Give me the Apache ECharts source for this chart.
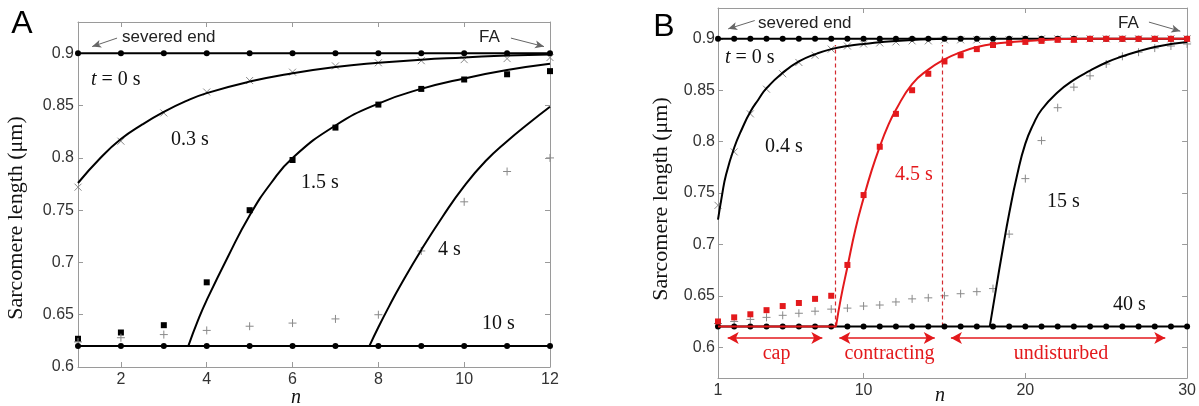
<!DOCTYPE html>
<html><head><meta charset="utf-8">
<script src="https://cdn.jsdelivr.net/npm/echarts@6/dist/echarts.min.js"></script>
<style>html,body{margin:0;padding:0;background:#fff}#c{width:1199px;height:406px}</style>
</head><body><div id="c"></div>
<script>
// ---------- Panel A data ----------
const nA = [1,2,3,4,5,6,7,8,9,10,11,12];
const A_t0 = [0.9,0.9,0.9,0.9,0.9,0.9,0.9,0.9,0.9,0.9,0.9,0.9];
const A_03s = [0.772,0.816,0.843,0.863,0.874,0.882,0.888,0.891,0.893,0.894,0.895,0.896];
const A_03s_fit = [[1,0.776],[1.5,0.799],[2,0.818],[2.5,0.832],[3,0.844],[3.5,0.854],[4,0.862],[5,0.873],[6,0.881],[7,0.887],[8,0.891],[9,0.894],[10,0.896],[11,0.898],[12,0.899]];
const A_15s = [0.627,0.633,0.640,0.681,0.750,0.798,0.829,0.851,0.866,0.875,0.880,0.883];
const A_15s_fit = [[3.57,0.62],[3.8,0.645],[4,0.664],[4.5,0.706],[5,0.745],[5.5,0.776],[6,0.8],[7,0.831],[8,0.852],[9,0.866],[10,0.876],[11,0.884],[12,0.89]];
const A_4s = [0.624,0.628,0.631,0.635,0.639,0.642,0.646,0.650,0.711,0.758,0.787,0.80];
const A_4s_fit = [[7.79,0.62],[8,0.638],[8.25,0.658],[8.5,0.677],[9,0.712],[9.5,0.744],[10,0.773],[10.5,0.797],[11,0.816],[11.5,0.833],[12,0.849]];
const A_10s = [0.62,0.62,0.62,0.62,0.62,0.62,0.62,0.62,0.62,0.62,0.62,0.62];
const A_xTicks = [2,4,6,8,10,12];
const A_yTicks = [0.6,0.65,0.7,0.75,0.8,0.85,0.9];

// ---------- Panel B data ----------
const nB = [1,2,3,4,5,6,7,8,9,10,11,12,13,14,15,16,17,18,19,20,21,22,23,24,25,26,27,28,29,30];
const B_t0 = [0.9,0.9,0.9,0.9,0.9,0.9,0.9,0.9,0.9,0.9,0.9,0.9,0.9,0.9,0.9,0.9,0.9,0.9,0.9,0.9,0.9,0.9,0.9,0.9,0.9,0.9,0.9,0.9,0.9,0.9];
const B_04s = [0.738,0.790,0.827,0.851,0.866,0.877,0.884,0.890,0.893,0.895,0.896,0.897,0.898,0.898,0.899,0.899,0.899,0.899,0.899,0.9,0.9,0.9,0.9,0.9,0.9,0.9,0.9,0.9,0.9,0.9];
const B_04s_fit = [[1,0.724],[1.25,0.748],[1.5,0.768],[2,0.794],[2.5,0.813],[3,0.829],[3.5,0.841],[4,0.852],[5,0.867],[6,0.878],[7,0.885],[8,0.89],[9,0.893],[10,0.895],[12,0.898],[15,0.9]];
const B_45s = [0.625,0.629,0.632,0.636,0.640,0.643,0.647,0.650,0.680,0.748,0.795,0.827,0.850,0.866,0.878,0.884,0.890,0.894,0.896,0.897,0.898,0.899,0.899,0.9,0.9,0.9,0.9,0.9,0.9,0.9];
const B_45s_flat = [[1,0.62],[8.29,0.62]];
const B_45s_fit = [[8.29,0.62],[8.6,0.648],[9,0.678],[9.5,0.715],[10,0.745],[10.5,0.772],[11,0.795],[11.5,0.815],[12,0.831],[13,0.856],[14,0.87],[15,0.88],[16,0.887],[17,0.892],[18,0.895],[20,0.898],[24,0.9],[30,0.9]];
const B_15s = [0.623,0.625,0.627,0.629,0.631,0.633,0.635,0.637,0.638,0.640,0.641,0.644,0.647,0.648,0.650,0.652,0.654,0.657,0.710,0.764,0.801,0.833,0.853,0.864,0.8755,0.883,0.887,0.891,0.893,0.895];
const B_15s_fit = [[17.8,0.62],[18.2,0.658],[18.6,0.695],[19,0.73],[19.5,0.768],[20,0.798],[20.5,0.817],[21,0.831],[22,0.848],[23,0.86],[24,0.869],[25,0.877],[26,0.883],[27,0.888],[28,0.892],[29,0.895],[30,0.897]];
const B_40s = [0.62,0.62,0.62,0.62,0.62,0.62,0.62,0.62,0.62,0.62,0.62,0.62,0.62,0.62,0.62,0.62,0.62,0.62,0.62,0.62,0.62,0.62,0.62,0.62,0.62,0.62,0.62,0.62,0.62,0.62];
const B_xTicks = [1,10,20,30];
const B_yTicks = [0.6,0.65,0.7,0.75,0.8,0.85,0.9];

// annotation anchors (data units)
const B_zoneBounds = [8.25, 14.85];
const B_zones = [
  {name:'cap', from:1.6, to:7.45, mid:4.62},
  {name:'contracting', from:8.5, to:14.4, mid:11.6},
  {name:'undisturbed', from:15.4, to:28.65, mid:22.2}
];

const RED = '#e3191c';
const GRAY = '#8a8a8a';
const SANS = '"Liberation Sans", Arial, sans-serif';
const SERIF = '"Liberation Serif", "Times New Roman", serif';

const zip = (xs, ys) => xs.map((x,i)=>[x, ys[i]]);
const CROSS = 'path://M0,0L10,10M10,0L0,10';
const PLUS = 'path://M5,0L5,10M0,5L10,5';

function axisPair(gridIndex, min, max, ticks, showLabels, pos){
  return {
    gridIndex, type:'value', min, max, position:pos,
    axisLine:{show:true, onZero:false, lineStyle:{color:'#9a9a9a', width:1}},
    axisTick:{show:true, inside:true, length:5, customValues:ticks, lineStyle:{color:'#9a9a9a'}},
    axisLabel:{show:showLabels, customValues:ticks, fontSize:16, fontFamily:SANS, color:'#333', margin:5,
      formatter:v=>String(+(+v).toFixed(2))},
    splitLine:{show:false}
  };
}

const xAxis = [
  axisPair(0,1,12,A_xTicks,true,'bottom'),
  axisPair(0,1,12,A_xTicks,false,'top'),
  axisPair(1,1,30,B_xTicks,true,'bottom'),
  axisPair(1,1,30,B_xTicks,false,'top')
];
const yAxis = [
  axisPair(0,0.6,0.93,A_yTicks,true,'left'),
  axisPair(0,0.6,0.93,A_yTicks,false,'right'),
  axisPair(1,0.57,0.93,B_yTicks,true,'left'),
  axisPair(1,0.57,0.93,B_yTicks,false,'right')
];
yAxis[0].axisLabel.margin = 4; yAxis[2].axisLabel.margin = 3;

function dotLine(xi, data){
  return {type:'line', xAxisIndex:xi, yAxisIndex:xi, data, symbol:'circle', symbolSize:6,
    lineStyle:{color:'#000', width:2}, itemStyle:{color:'#000'}, z:5};
}
function fit(xi, data, color){
  return {type:'line', xAxisIndex:xi, yAxisIndex:xi, data, smooth:0.5, showSymbol:false, symbol:'none',
    lineStyle:{color:color||'#000', width:2}, z:4};
}
function marks(xi, data, symbol, color, size, stroke){
  return {type:'scatter', xAxisIndex:xi, yAxisIndex:xi, data, symbol, symbolSize:size,
    itemStyle: stroke ? {color:'rgba(0,0,0,0)', borderColor:color, borderWidth:1, opacity:1} : {color, opacity:1}, z:3};
}
function arrowLine(xi, from, to, color, both, width){
  return {type:'line', xAxisIndex:xi, yAxisIndex:xi, data:[], silent:true,
    markLine:{silent:true, animation:false, symbol: both ? ['arrow','arrow'] : ['none','arrow'],
      symbolSize: both ? [9,11] : [6,9],
      label:{show:false}, lineStyle:{color, width:width||1, type:'solid', opacity:1},
      data:[[{coord:from},{coord:to}]]}};
}

const series = [
  // A
  marks(0, zip(nA, A_03s), CROSS, GRAY, 7, true),
  fit(0, A_03s_fit),
  marks(0, zip(nA, A_15s), 'rect', '#000', 6, false),
  fit(0, A_15s_fit),
  marks(0, zip(nA, A_4s), PLUS, GRAY, 8, true),
  fit(0, A_4s_fit),
  dotLine(0, zip(nA, A_t0)),
  dotLine(0, zip(nA, A_10s)),
  arrowLine(0, [1.91,0.9146], [1.33,0.9065], '#666'),
  arrowLine(0, [11.09,0.9146], [11.86,0.9065], '#666'),
  // B
  marks(2, zip(nB, B_04s), CROSS, GRAY, 7, true),
  fit(2, B_04s_fit),
  marks(2, zip(nB, B_15s), PLUS, GRAY, 8, true),
  fit(2, B_15s_fit),
  dotLine(2, zip(nB, B_t0)),
  dotLine(2, zip(nB, B_40s)),
  Object.assign(fit(2, B_45s_flat, RED), {z:6, smooth:false}),
  Object.assign(fit(2, B_45s_fit, RED), {z:6}),
  Object.assign(marks(2, zip(nB, B_45s), 'rect', RED, 6, false), {z:7}),
  arrowLine(2, [3.27,0.9178], [1.63,0.9097], '#666'),
  arrowLine(2, [27.64,0.9163], [29.58,0.9075], '#666'),
  {type:'line', xAxisIndex:2, yAxisIndex:2, data:[], silent:true,
    markLine:{silent:true, animation:false, symbol:['none','none'], label:{show:false},
      lineStyle:{color:'#d42a30', width:1.2, type:[4,3], opacity:1},
      data: B_zoneBounds.map(x=>[{coord:[x,0.62]},{coord:[x,0.894]}])}},
  ...B_zones.map(z=>arrowLine(2, [z.from,0.609], [z.to,0.609], RED, true, 1.5))
];

function txt(x, y, text, opts){
  opts = opts || {};
  return {type:'text', x, y, z:100, rotation: opts.rot || 0,
    style:Object.assign({text, font: opts.font || ('20px ' + SERIF), fill: opts.fill || '#111',
      align: opts.align || 'left', verticalAlign:'middle'}, opts.rich ? {rich:opts.rich} : {})};
}
const tRich = {i:{font:'italic 20px ' + SERIF, fill:'#111'}};
const graphic = [
  txt(22, 24, 'A', {font:'32px ' + SANS, align:'center', fill:'#000'}),
  txt(664, 27, 'B', {font:'32px ' + SANS, align:'center', fill:'#000'}),
  txt(16, 218, 'Sarcomere length (\u03bcm)', {font:'22px ' + SERIF, align:'center', rot:Math.PI/2}),
  txt(661, 199, 'Sarcomere length (\u03bcm)', {font:'22px ' + SERIF, align:'center', rot:Math.PI/2}),
  txt(296, 398, 'n', {font:'italic 20px ' + SERIF, align:'center'}),
  txt(940, 396, 'n', {font:'italic 20px ' + SERIF, align:'center'}),
  // A annotations
  txt(122, 37, 'severed end', {font:'17px ' + SANS, fill:'#222'}),
  txt(479, 37, 'FA', {font:'17px ' + SANS, fill:'#222'}),
  txt(91, 80, '{i|t} = 0 s', {rich:tRich}),
  txt(171, 140, '0.3 s'),
  txt(301, 183, '1.5 s'),
  txt(438, 250, '4 s'),
  txt(482, 324, '10 s'),
  // B annotations
  txt(758, 23, 'severed end', {font:'17px ' + SANS, fill:'#222'}),
  txt(1118, 23, 'FA', {font:'17px ' + SANS, fill:'#222'}),
  txt(725, 58, '{i|t} = 0 s', {rich:tRich}),
  txt(765, 147, '0.4 s'),
  txt(895, 175, '4.5 s', {fill:RED}),
  txt(1047, 202, '15 s'),
  txt(1113, 305, '40 s')
];

const chart = echarts.init(document.getElementById('c'), null, {renderer:'canvas'});
chart.setOption({
  animation:false,
  backgroundColor:'#fff',
  grid:[
    {left:78, right:1199-550, top:22, bottom:406-367},
    {left:718, right:1199-1190, top:8, bottom:406-378}
  ],
  xAxis, yAxis, series, graphic
});
// zone labels anchored via the chart's own scale
const zoneText = B_zones.map(z=>{
  const p = chart.convertToPixel({xAxisIndex:2, yAxisIndex:2}, [z.mid, 0.594]);
  return txt(p[0], p[1], z.name, {fill:RED, align:'center'});
});
chart.setOption({graphic: graphic.concat(zoneText)});
</script>
</body></html>
